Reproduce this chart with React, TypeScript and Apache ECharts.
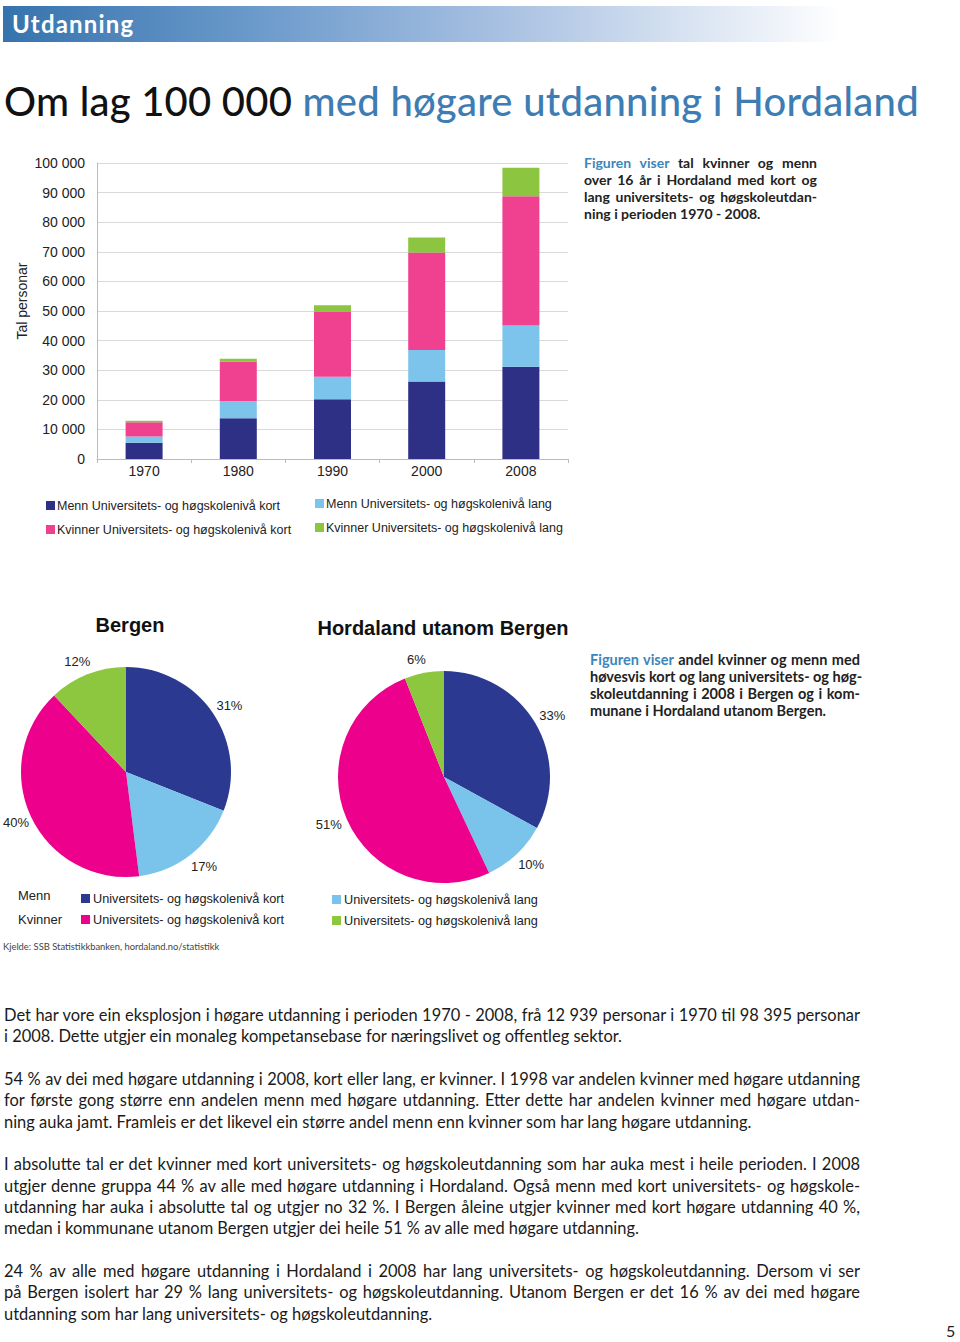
import React, { useEffect, useRef } from "react";
import * as echarts from "echarts";

const years = ["1970", "1980", "1990", "2000", "2008"];
const seriesNames = [
  "Menn Universitets- og høgskolenivå kort",
  "Menn Universitets- og høgskolenivå lang",
  "Kvinner Universitets- og høgskolenivå kort",
  "Kvinner Universitets- og høgskolenivå lang",
];
const mennKort = [5500, 13800, 20200, 26200, 31200];
const mennLang = [2100, 5700, 7600, 10600, 13900];
const kvinnerKort = [4850, 13400, 22000, 33000, 43700];
const kvinnerLang = [489, 1000, 2150, 5000, 9595];
const yMax = 100000;
const yInterval = 10000;

const bergenShares = [31, 17, 40, 12];
const hordalandShares = [33, 10, 51, 6];

const barColors = ["#2e3086", "#7cc4ec", "#ef4190", "#8cc540"];
const pieColors = ["#2b3990", "#7ac4ec", "#ec008c", "#8dc63f"];

const para = [
  [
    "Det har vore ein eksplosjon i høgare utdanning i perioden 1970 - 2008, frå 12 939 personar i 1970 til 98 395 personar",
    "i 2008.  Dette utgjer ein monaleg kompetansebase for næringslivet og offentleg sektor.",
  ],
  [
    "54 % av dei med høgare utdanning i 2008, kort eller lang, er kvinner. I 1998 var andelen kvinner med høgare utdanning",
    "for første gong større enn andelen menn med høgare utdanning. Etter dette har andelen kvinner med høgare utdan-",
    "ning auka jamt. Framleis er det likevel ein større andel menn enn kvinner som har lang høgare utdanning.",
  ],
  [
    "I absolutte tal er det kvinner med kort universitets- og høgskoleutdanning som har auka mest i heile perioden. I 2008",
    "utgjer denne gruppa 44 % av alle med høgare utdanning i Hordaland. Også menn med kort universitets- og høgskole-",
    "utdanning har auka i absolutte tal og utgjer no 32 %. I Bergen åleine utgjer kvinner med kort høgare utdanning 40 %,",
    "medan i kommunane utanom Bergen utgjer dei heile 51 % av alle med høgare utdanning.",
  ],
  [
    "24 % av alle med høgare utdanning i Hordaland i 2008 har lang universitets- og høgskoleutdanning. Dersom vi ser",
    "på Bergen isolert har 29 % lang universitets- og høgskoleutdanning. Utanom Bergen er det 16 % av dei med høgare",
    "utdanning som har lang universitets- og høgskoleutdanning.",
  ],
];

const side1 = [
  "tal kvinner og menn",
  "over 16 år  i Hordaland med kort og",
  "lang universitets- og høgskoleutdan-",
  "ning i perioden 1970 - 2008.",
];
const side2 = [
  "andel kvinner og menn med",
  "høvesvis kort og lang universitets- og høg-",
  "skoleutdanning i 2008 i Bergen og i kom-",
  "munane i Hordaland utanom Bergen.",
];

const fmtThousands = (v: number) => String(v).replace(/\B(?=(\d{3})+(?!\d))/g, " ");
const chartFont = "Liberation Sans, Arial, sans-serif";

function Chart() {
  const ref = useRef<HTMLDivElement>(null);
  useEffect(() => {
    if (!ref.current) return;
    const chart = echarts.init(ref.current, null, { renderer: "svg" });
    const barData = [mennKort, mennLang, kvinnerKort, kvinnerLang];
    const legendPos = [
      { left: 46, top: 499 },
      { left: 315, top: 497 },
      { left: 46, top: 523 },
      { left: 315, top: 521 },
    ];
    const pieLegendPos = [
      { left: 81, top: 892 },
      { left: 332, top: 893 },
      { left: 81, top: 913 },
      { left: 332, top: 914 },
    ];
    const legends: any[] = [];
    seriesNames.forEach((n, i) => {
      legends.push({
        show: true,
        ...legendPos[i],
        padding: 0,
        itemWidth: 9,
        itemHeight: 9,
        icon: "rect",
        selectedMode: false,
        data: [{ name: n, itemStyle: { color: barColors[i] } }],
        textStyle: { fontSize: 12.5, color: "#222", fontFamily: chartFont, padding: [0, 0, 0, -3] },
      });
    });
    seriesNames.forEach((n, i) => {
      legends.push({
        show: true,
        ...pieLegendPos[i],
        padding: 0,
        itemWidth: 9,
        itemHeight: 9,
        icon: "rect",
        selectedMode: false,
        data: [{ name: n, itemStyle: { color: pieColors[i] } }],
        formatter: (name: string) => name.replace(/^(Menn|Kvinner) /, ""),
        textStyle: { fontSize: 12.7, color: "#222", fontFamily: chartFont, padding: [0, 0, 0, -2] },
      });
    });

    const pieLabel = {
      show: true,
      position: "outside",
      formatter: "{c}%",
      fontSize: 13,
      color: "#222",
      fontFamily: chartFont,
    };
    const pieLabelLayout = (p: any) => {
      const w = p.labelRect.width;
      let dx = p.align === "left" ? -w / 2 : p.align === "right" ? w / 2 : 0;
      if (p.labelRect.x + dx < 3) dx = 3 - p.labelRect.x;
      return { dx };
    };
    const pieData = (vals: number[]) =>
      vals.map((v, i) => ({ name: seriesNames[i], value: v, itemStyle: { color: pieColors[i] } }));

    chart.setOption({
      animation: false,
      textStyle: { fontFamily: chartFont },
      grid: { left: 97, top: 163, width: 471, height: 296, containLabel: false },
      legend: legends,
      xAxis: {
        type: "category",
        data: years,
        axisLine: { show: true, lineStyle: { color: "#bcbcbc" } },
        axisTick: { show: true, length: 4, lineStyle: { color: "#bcbcbc" } },
        axisLabel: { fontSize: 14, color: "#222", margin: 5, fontFamily: chartFont },
      },
      yAxis: {
        type: "value",
        min: 0,
        max: yMax,
        interval: yInterval,
        name: "Tal personar",
        nameLocation: "middle",
        nameRotate: 90,
        nameGap: 68,
        nameTextStyle: { fontSize: 14, color: "#222", fontFamily: chartFont, padding: [0, 0, 0, 20] },
        axisLine: { show: true, lineStyle: { color: "#bcbcbc" } },
        axisTick: { show: false },
        splitLine: { lineStyle: { color: "#d9d9d9" } },
        axisLabel: {
          fontSize: 14,
          color: "#222",
          margin: 12,
          fontFamily: chartFont,
          formatter: (v: number) => fmtThousands(v),
        },
      },
      series: [
        ...barData.map((d, i) => ({
          type: "bar",
          name: seriesNames[i],
          stack: "total",
          data: d,
          barWidth: 37,
          itemStyle: { color: barColors[i] },
        })),
        {
          type: "pie",
          name: "Bergen",
          center: [126, 772],
          radius: 105,
          startAngle: 90,
          clockwise: true,
          data: pieData(bergenShares),
          label: pieLabel,
          labelLine: { show: false, length: 14, length2: 0 },
          labelLayout: pieLabelLayout,
          avoidLabelOverlap: false,
        },
        {
          type: "pie",
          name: "Hordaland utanom Bergen",
          center: [444, 777],
          radius: 106,
          startAngle: 90,
          clockwise: true,
          data: pieData(hordalandShares),
          label: pieLabel,
          labelLine: { show: false, length: 14, length2: 0 },
          labelLayout: pieLabelLayout,
          avoidLabelOverlap: false,
        },
      ],
      graphic: [
        {
          type: "text",
          x: 130,
          y: 625,
          style: {
            text: "Bergen",
            font: `bold 20px ${chartFont}`,
            fill: "#111",
            align: "center",
            verticalAlign: "middle",
          },
        },
        {
          type: "text",
          x: 443,
          y: 628,
          style: {
            text: "Hordaland utanom Bergen",
            font: `bold 20px ${chartFont}`,
            fill: "#111",
            align: "center",
            verticalAlign: "middle",
          },
        },
        {
          type: "text",
          x: 18,
          y: 895,
          style: { text: "Menn", font: `13px ${chartFont}`, fill: "#222", verticalAlign: "middle" },
        },
        {
          type: "text",
          x: 18,
          y: 919,
          style: { text: "Kvinner", font: `13px ${chartFont}`, fill: "#222", verticalAlign: "middle" },
        },
      ],
    });
    return () => chart.dispose();
  }, []);
  return <div ref={ref} style={{ position: "absolute", left: 0, top: 0, width: 960, height: 1342 }} />;
}

const lineStyle = (last: boolean): React.CSSProperties => ({
  whiteSpace: "nowrap",
  textAlign: last ? "left" : "justify",
  textAlignLast: last ? "left" : "justify",
});

export default function App() {
  const bodyFont = "Lato, 'Noto Sans', sans-serif";
  return (
    <div
      style={{
        position: "absolute",
        left: 0,
        top: 0,
        width: 960,
        height: 1342,
        background: "#fff",
        overflow: "hidden",
        fontFamily: bodyFont,
      }}
    >
      <Chart />
      <div
        style={{
          position: "absolute",
          left: 3,
          top: 6,
          width: 837,
          height: 36,
          background: "linear-gradient(to right, #3673ad 0%, #6b9acb 30%, #a9c1e2 60%, #ffffff 100%)",
          color: "#fff",
          fontWeight: 700,
          fontSize: 24,
          letterSpacing: 1.2,
          lineHeight: "36px",
          paddingLeft: 9,
          boxSizing: "border-box",
        }}
      >
        Utdanning
      </div>
      <div
        style={{
          position: "absolute",
          left: 4,
          top: 76,
          fontSize: 40,
          letterSpacing: 0.25,
          lineHeight: "50px",
          whiteSpace: "nowrap",
          color: "#111",
          fontWeight: 500,
        }}
      >
        Om lag 100 000 <span style={{ color: "#3d7db4" }}>med høgare utdanning i Hordaland</span>
      </div>
      <div
        style={{
          position: "absolute",
          left: 584,
          top: 154,
          width: 233,
          fontSize: 14,
          lineHeight: "17px",
          fontWeight: 700,
          color: "#222",
        }}
      >
        {side1.map((l, i) => (
          <div key={i} style={lineStyle(i === side1.length - 1)}>
            {i === 0 ? <span style={{ color: "#3b86bb" }}>Figuren viser </span> : null}
            {l}
          </div>
        ))}
      </div>
      <div
        style={{
          position: "absolute",
          left: 590,
          top: 651,
          width: 270,
          fontSize: 14.5,
          lineHeight: "17px",
          fontWeight: 700,
          color: "#222",
        }}
      >
        {side2.map((l, i) => (
          <div key={i} style={lineStyle(i === side2.length - 1)}>
            {i === 0 ? <span style={{ color: "#3b86bb" }}>Figuren viser </span> : null}
            {l}
          </div>
        ))}
      </div>
      <div
        style={{
          position: "absolute",
          left: 3,
          top: 940,
          fontSize: 9.4,
          lineHeight: "14px",
          color: "#444",
          whiteSpace: "nowrap",
        }}
      >
        Kjelde: SSB Statistikkbanken, hordaland.no/statistikk
      </div>
      <div
        style={{
          position: "absolute",
          left: 4,
          top: 1005,
          width: 856,
          fontSize: 16.45,
          lineHeight: "21.33px",
          color: "#1a1a1a",
        }}
      >
        {para.map((p, pi) => (
          <div key={pi} style={{ marginBottom: pi < para.length - 1 ? 21.33 : 0 }}>
            {p.map((l, li) => (
              <div key={li} style={lineStyle(li === p.length - 1)}>
                {l}
              </div>
            ))}
          </div>
        ))}
      </div>
      <div
        style={{
          position: "absolute",
          left: 946,
          top: 1322,
          fontSize: 16,
          lineHeight: "18px",
          color: "#222",
        }}
      >
        5
      </div>
    </div>
  );
}
